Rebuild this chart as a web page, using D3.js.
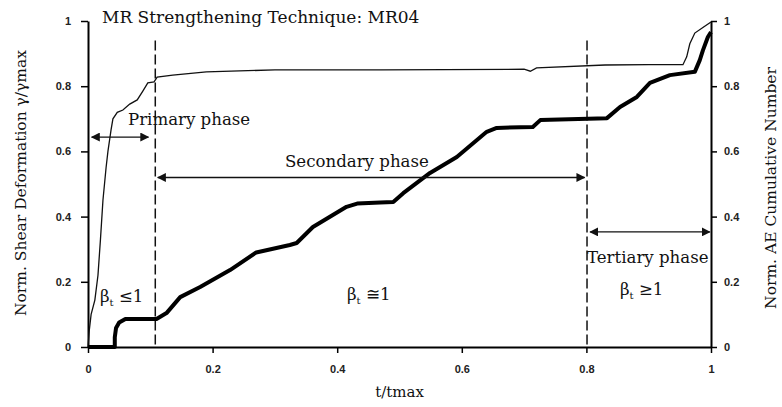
<!DOCTYPE html>
<html>
<head>
<meta charset="utf-8">
<script src="https://cdn.jsdelivr.net/npm/d3@7"></script>
<style>
  body { margin: 0; background: #fff; }
  .tick text { font-family: Arial, "Liberation Sans", sans-serif; font-size: 11px; font-weight: bold; fill: #222; }
  .lbl { font-family: "DejaVu Serif", "Liberation Serif", serif; fill: #111; }
</style>
</head>
<body>
<div id="chart"></div>
<script>
// normalised time
var shearT = [0, 0.002, 0.005, 0.011, 0.016, 0.02, 0.024, 0.029, 0.032, 0.037, 0.04, 0.047, 0.056, 0.067, 0.079, 0.088, 0.096, 0.106, 0.111, 0.136, 0.19, 0.3, 0.47, 0.7, 0.71, 0.72, 0.83, 0.9, 0.955, 0.961, 0.966, 0.974, 0.987, 1.0];
var shearV = [0, 0.05, 0.1, 0.144, 0.22, 0.33, 0.45, 0.55, 0.6, 0.666, 0.7, 0.72, 0.727, 0.745, 0.758, 0.785, 0.81, 0.813, 0.828, 0.834, 0.844, 0.85, 0.85, 0.852, 0.846, 0.856, 0.865, 0.866, 0.866, 0.89, 0.93, 0.963, 0.98, 0.997];

var aeT = [0, 0.043, 0.043, 0.045, 0.05, 0.06, 0.11, 0.126, 0.148, 0.18, 0.228, 0.27, 0.324, 0.335, 0.361, 0.393, 0.415, 0.432, 0.469, 0.49, 0.506, 0.549, 0.592, 0.64, 0.656, 0.714, 0.726, 0.833, 0.854, 0.881, 0.902, 0.934, 0.974, 0.982, 0.987, 0.995, 1.0];
var aeV = [0, 0, 0.03, 0.058, 0.075, 0.086, 0.086, 0.104, 0.153, 0.184, 0.236, 0.29, 0.313, 0.319, 0.368, 0.405, 0.43, 0.44, 0.443, 0.445, 0.472, 0.534, 0.583, 0.66, 0.672, 0.675, 0.696, 0.702, 0.736, 0.767, 0.81, 0.834, 0.844, 0.88, 0.91, 0.951, 0.966];

var xTicks = [0, 0.2, 0.4, 0.6, 0.8, 1];
var yTicks = [0, 0.2, 0.4, 0.6, 0.8, 1];
var phaseBounds = [0.108, 0.801];

var width = 782, height = 407;
var margin = {top: 21, right: 71, bottom: 60, left: 88};

var x = d3.scaleLinear().domain([0, 1]).range([margin.left, width - margin.right]);
var y = d3.scaleLinear().domain([0, 1]).range([height - margin.bottom, margin.top]);

var svg = d3.select("#chart").append("svg")
    .attr("width", width)
    .attr("height", height);

var defs = svg.append("defs");
defs.append("marker").attr("id", "ah")
    .attr("viewBox", "0 0 10 10").attr("refX", 9).attr("refY", 5)
    .attr("markerWidth", 9).attr("markerHeight", 9).attr("markerUnits", "userSpaceOnUse")
    .attr("orient", "auto-start-reverse")
  .append("path").attr("d", "M0,0L10,5L0,10z").attr("fill", "#111");

// axes
var fmt = function(d) { return d === 0 ? "0" : d === 1 ? "1" : d3.format(".1f")(d); };

function styleAxis(g) {
  g.select(".domain").attr("stroke-width", 2);
  g.selectAll(".tick line").attr("stroke-width", 1.5);
}

svg.append("g")
    .attr("transform", "translate(0," + y(0) + ")")
    .call(d3.axisBottom(x).tickValues(xTicks).tickFormat(fmt).tickSize(6).tickSizeOuter(0).tickPadding(12))
    .call(styleAxis);

svg.append("g")
    .attr("transform", "translate(" + x(0) + ",0)")
    .call(d3.axisLeft(y).tickValues(yTicks).tickFormat(fmt).tickSize(7).tickSizeOuter(0).tickPadding(10))
    .call(styleAxis);

svg.append("g")
    .attr("transform", "translate(" + x(1) + ",0)")
    .call(d3.axisRight(y).tickValues(yTicks).tickFormat(fmt).tickSize(6).tickSizeOuter(0).tickPadding(7))
    .call(styleAxis);

// phase boundaries
svg.selectAll(".bound").data(phaseBounds).enter().append("line")
    .attr("x1", function(d) { return x(d); }).attr("x2", function(d) { return x(d); })
    .attr("y1", y(0.94)).attr("y2", y(0))
    .attr("stroke", "#111").attr("stroke-width", 1.5)
    .attr("stroke-dasharray", "10,4");

// curves
var line = d3.line().x(function(d) { return x(d[0]); }).y(function(d) { return y(d[1]); });

svg.append("path")
    .datum(d3.zip(shearT, shearV))
    .attr("d", line).attr("fill", "none")
    .attr("stroke", "#111").attr("stroke-width", 1.3);

svg.append("path")
    .datum(d3.zip(aeT, aeV))
    .attr("d", line).attr("fill", "none")
    .attr("stroke", "#000").attr("stroke-width", 4).attr("stroke-linejoin", "round");

// phase arrows
var arrows = [[0.006, 0.097, 0.644], [0.112, 0.797, 0.52], [0.806, 0.998, 0.353]];
svg.selectAll(".arr").data(arrows).enter().append("line")
    .attr("x1", function(d) { return x(d[0]); }).attr("x2", function(d) { return x(d[1]); })
    .attr("y1", function(d) { return y(d[2]); }).attr("y2", function(d) { return y(d[2]); })
    .attr("stroke", "#111").attr("stroke-width", 1.3)
    .attr("marker-start", "url(#ah)").attr("marker-end", "url(#ah)");

// text labels
svg.append("text").attr("class", "lbl").attr("x", 102).attr("y", 23)
    .style("font-size", "17px").text("MR Strengthening Technique: MR04");

svg.append("text").attr("class", "lbl").attr("x", 128).attr("y", 125)
    .style("font-size", "16.6px").text("Primary phase");
svg.append("text").attr("class", "lbl").attr("x", 285).attr("y", 167)
    .style("font-size", "16.6px").text("Secondary phase");
svg.append("text").attr("class", "lbl").attr("x", 587).attr("y", 263)
    .style("font-size", "16.6px").text("Tertiary phase");

function beta(xp, yp, rel) {
  var t = svg.append("text").attr("class", "lbl").attr("x", xp).attr("y", yp).style("font-size", "16.6px");
  t.append("tspan").text("β");
  t.append("tspan").attr("dy", 4).style("font-size", "10px").text("t");
  t.append("tspan").attr("dy", -4).text(" " + rel + "1");
}
beta(100, 302, "≤");
beta(347, 300, "≅");
beta(620, 295, "≥");

svg.append("text").attr("class", "lbl")
    .attr("x", x(0.5)).attr("y", 397).attr("text-anchor", "middle")
    .style("font-size", "15px").text("t/tmax");

svg.append("text").attr("class", "lbl")
    .attr("transform", "translate(26,183) rotate(-90)").attr("text-anchor", "middle")
    .style("font-size", "15.5px").text("Norm. Shear Deformation γ/γmax");

svg.append("text").attr("class", "lbl")
    .attr("transform", "translate(776,188) rotate(-90)").attr("text-anchor", "middle")
    .style("font-size", "15.5px").text("Norm. AE Cumulative Number");
</script>
</body>
</html>
